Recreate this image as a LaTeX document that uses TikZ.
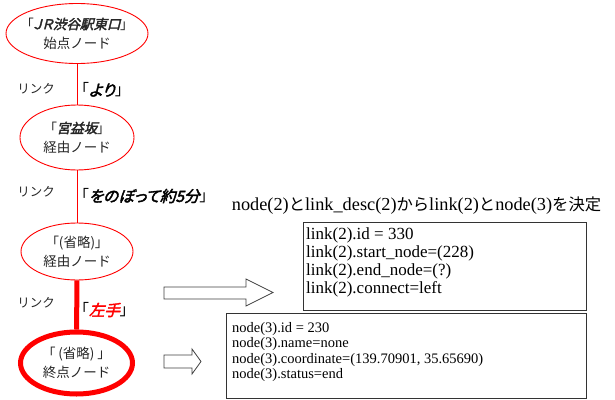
\documentclass[tikz,border=0pt]{standalone}
\usepackage{fontspec}
\setmainfont{Liberation Serif}
\newfontfamily\jp{Noto Sans CJK JP}
\newfontfamily\jpp{Noto Sans CJK JP}[RawFeature={+palt}]
\newfontfamily\jpbi{Noto Sans CJK JP}[FakeSlant=0.25,FakeBold=2.5,RawFeature={+palt}]
\newcommand\LBr{{\jpp 「}}
\newcommand\RBr{{\jpp 」}}
\newcommand\tj{\jp\fontsize{16.3}{20}\selectfont}
\usetikzlibrary{shapes.geometric}
\definecolor{lred}{RGB}{255,0,0}
\begin{document}
\begin{tikzpicture}[x=1pt,y=-1pt,
  station/.style={ellipse,draw=lred,line width=0.9pt,inner sep=0pt,align=center,
    font=\jp\fontsize{13.5}{19}\selectfont,text=black!85},
  linklbl/.style={font=\jp\fontsize{12.5}{14}\selectfont,text=black!85,inner sep=0pt},
  desc/.style={font=\jp\fontsize{15.5}{16}\selectfont,text=black,inner sep=0pt,anchor=west},
  box/.style={draw=black!80,line width=0.9pt,inner sep=0pt,anchor=north west},
  boxtext/.style={align=left,inner sep=0pt,anchor=north west},
  hollow/.style={draw=black!75,line width=0.8pt,fill=white}]
\useasboundingbox (0,0) rectangle (615,399);
\node[station,minimum width=124,minimum height=60] (e1) at (77,33.5)
  {\LBr{\jpbi ＪＲ渋谷駅東口}\RBr\\始点ノード};
\node[station,minimum width=114,minimum height=65] (e2) at (77,137.5)
  {\LBr{\jpbi 宮益坂}\RBr\\経由ノード};
\node[station,minimum width=112,minimum height=57] (e3) at (77,251.5)
  {\LBr(省略)\RBr\\経由ノード};
\node[station,line width=5pt,minimum width=112,minimum height=62] (e4) at (76.5,363)
  {\LBr\ (省略) \RBr\\終点ノード};
\draw[lred,line width=0.9pt] (e1) -- (e2);
\draw[lred,line width=0.9pt] (e2) -- (e3);
\draw[lred,line width=5pt] (e3) -- (e4);
\node[linklbl] (l1) at (36,89) {リンク};
\node[linklbl] (l2) at (36,192) {リンク};
\node[linklbl] (l3) at (36,303) {リンク};
\node[desc] (d1) at (81,90) {\LBr{\jpbi より}\RBr};
\node[desc] (d2) at (81,196) {\LBr{\jpbi をのぼって約5分}\RBr};
\node[desc] (d3) at (81,310) {\LBr{\jpbi\color{lred}左手}\RBr};
\node[font=\fontsize{18.3}{20}\selectfont,inner sep=0pt] (title) at (416.5,206)
  {node(2){\tj と}link\_desc(2){\tj から}link(2){\tj と}node(3){\tj を決定}};
\node[box,minimum width=283,minimum height=88] (b1) at (303,222) {};
\node[boxtext,font=\fontsize{17}{18}\selectfont] (t1) at ([xshift=3pt,yshift=-5.5pt]b1.north west)
  {link(2).id = 330\\link(2).start\_node=(228)\\link(2).end\_node=(?)\\link(2).connect=left};
\node[box,fill=white,minimum width=360,minimum height=85] (b2) at (226,313) {};
\node[boxtext,font=\fontsize{14.5}{15.5}\selectfont] (t2) at ([xshift=6pt,yshift=-9pt]b2.north west)
  {node(3).id = 230\\node(3).name=none\\node(3).coordinate=(139.70901, 35.65690)\\node(3).status=end};
\draw[hollow] (164,287) -- (246,287) -- (246,279) -- (273,292.5) -- (246,306) -- (246,299) -- (164,299) -- cycle;
\draw[hollow] (164,355) -- (192,355) -- (192,349) -- (201,361.5) -- (192,374) -- (192,368) -- (164,368) -- cycle;
\end{tikzpicture}
\end{document}
